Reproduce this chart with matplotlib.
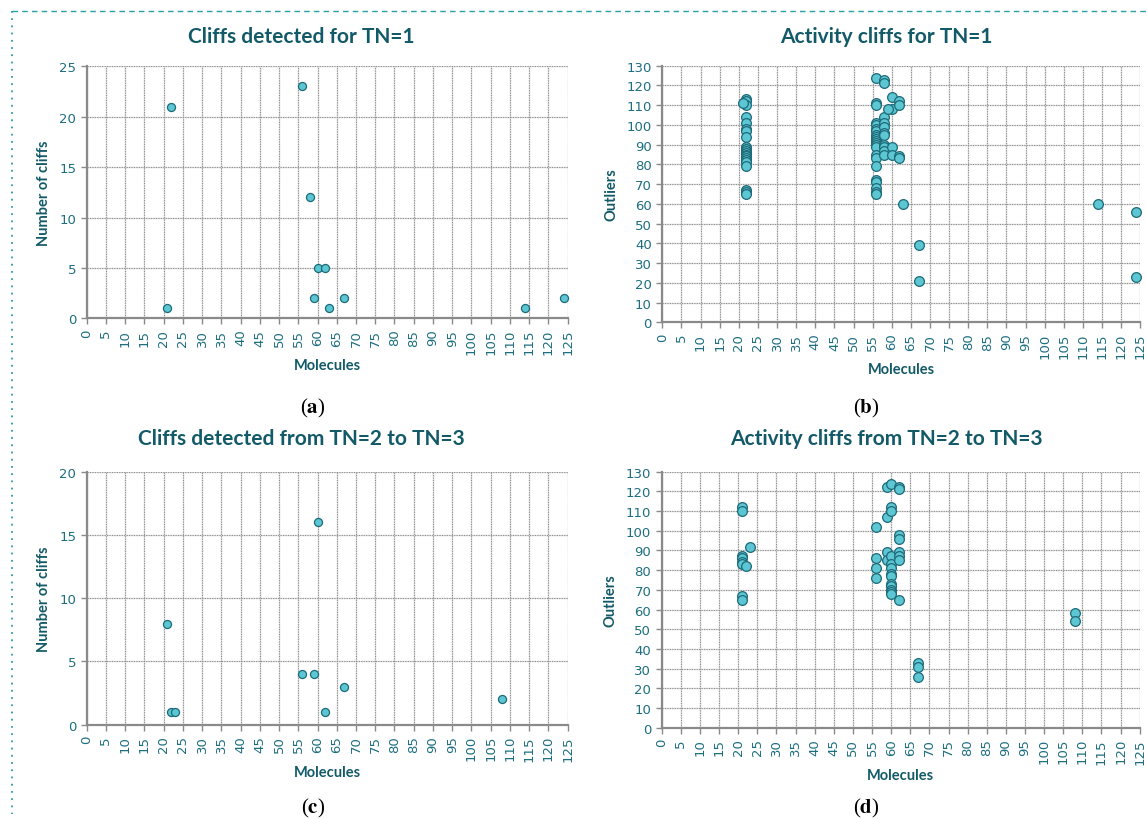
import matplotlib
matplotlib.use("Agg")
import matplotlib.pyplot as plt
from matplotlib.lines import Line2D

plt.rcParams['font.family'] = ['Lato', 'DejaVu Sans']
plt.rcParams['mathtext.fontset'] = 'stix'

# ---------------- data ----------------
# (a) Cliffs detected for TN=1
a_x = [21, 22, 56, 58, 59, 60, 62, 63, 67, 114, 124]
a_y = [1, 21, 23, 12, 2, 5, 5, 1, 2, 1, 2]

# (b) Activity cliffs for TN=1
b_x22 = [113, 112, 110, 104, 101, 98, 97, 94, 89, 88, 87, 86, 85, 84, 83, 82, 81, 79, 67, 66, 65]
b_x56 = [124, 111, 110, 101, 100, 98, 97, 95, 94, 93, 92, 91, 90, 89, 85, 83, 79, 72, 71, 68, 66, 65]
b_x58 = [123, 121, 104, 101, 99, 96, 95, 90, 89, 87, 85]
b_x60 = [114, 108, 89, 85]
b_x62 = [112, 110, 84, 83]
b_other_x = [21, 59, 63, 67, 67, 114, 124, 124]
b_other_y = [111, 108, 60, 39, 21, 60, 56, 23]

# (c) Cliffs detected from TN=2 to TN=3
c_x = [21, 22, 23, 56, 59, 60, 62, 67, 108]
c_y = [8, 1, 1, 4, 4, 16, 1, 3, 2]

# (d) Activity cliffs from TN=2 to TN=3
d_x21 = [112, 110, 87, 86, 84, 83, 67, 65]
d_x56 = [102, 86, 81, 76]
d_x59 = [122, 107, 89, 85]
d_x60 = [124, 112, 110, 87, 83, 81, 78, 77, 73, 72, 70, 69, 68]
d_x62 = [122, 121, 98, 96, 89, 87, 85, 65]
d_other_x = [22, 23, 67, 67, 67, 108, 108]
d_other_y = [82, 92, 33, 31, 26, 58, 54]

x_ticks = list(range(0, 126, 5))

titles = ["Cliffs detected for TN=1", "Activity cliffs for TN=1",
          "Cliffs detected from TN=2 to TN=3", "Activity cliffs from TN=2 to TN=3"]
ylabels = ["Number of cliffs", "Outliers", "Number of cliffs", "Outliers"]
letters = ["a", "b", "c", "d"]

def expand(x, ys):
    return [x] * len(ys), ys

bx, by = [], []
for xv, ys in [(22, b_x22), (56, b_x56), (58, b_x58), (60, b_x60), (62, b_x62)]:
    xx, yy = expand(xv, ys)
    bx += xx; by += yy
bx += b_other_x; by += b_other_y

dx, dy = [], []
for xv, ys in [(21, d_x21), (56, d_x56), (59, d_x59), (60, d_x60), (62, d_x62)]:
    xx, yy = expand(xv, ys)
    dx += xx; dy += yy
dx += d_other_x; dy += d_other_y

# ---------------- styles ----------------
W, H = 1147, 820
TEAL_T = "#125a68"
TEAL_TK = "#1d6e80"
FACE = "#5cc6d3"
EDGE = "#1d6a78"

fig = plt.figure(figsize=(W / 100, H / 100), dpi=100)

def px_axes(left, right, top, bottom):
    return fig.add_axes([left / W, (H - bottom) / H, (right - left) / W, (bottom - top) / H])

axes_px = [
    (86.7, 567.6, 67.3, 319.3),
    (662.3, 1140.3, 66.7, 323.3),
    (86.7, 567.6, 472.7, 725.7),
    (661.7, 1139.7, 472.7, 728.7),
]
data = [(a_x, a_y), (bx, by), (c_x, c_y), (dx, dy)]
ylims = [(0, 25, 5), (0, 130, 10), (0, 20, 5), (0, 130, 10)]
msizes = [5.8, 7, 5.8, 7]

for i, (geom, (xs, ys), (y0, y1, ys_step)) in enumerate(zip(axes_px, data, ylims)):
    ax = px_axes(*geom)
    ax.set_xlim(0, 125)
    ax.set_ylim(y0, y1)
    ax.set_xticks(x_ticks)
    ax.set_yticks(list(range(y0, y1 + 1, ys_step)))
    ax.set_axisbelow(True)
    ax.grid(True, color="#dcdcdc", linestyle="-", linewidth=1.0, zorder=0)
    for t in ax.get_xticks():
        ax.axvline(t, color="#8e8e8e", linestyle=(0, (1, 1.2)), linewidth=0.8, zorder=1.5)
    for t in ax.get_yticks():
        ax.axhline(t, color="#8e8e8e", linestyle=(0, (1, 1.2)), linewidth=0.8, zorder=1.5)
    for s in ["top", "right"]:
        ax.spines[s].set_visible(False)
    for s in ["left", "bottom"]:
        ax.spines[s].set_color("#8a8a8a")
        ax.spines[s].set_linewidth(1.6)
        ax.spines[s].set_zorder(3)
    ax.tick_params(axis="both", colors="#8a8a8a", labelcolor=TEAL_TK, length=4, width=1)
    ax.tick_params(axis="x", labelrotation=90, labelsize=9.5)
    ax.tick_params(axis="y", labelsize=9.5)
    for lab in ax.get_xticklabels() + ax.get_yticklabels():
        lab.set_family("DejaVu Sans")
    ax.plot(xs, ys, linestyle="none", marker="o", markersize=msizes[i],
            markerfacecolor=FACE, markeredgecolor=EDGE, markeredgewidth=0.9,
            zorder=4, clip_on=False)
    ax.set_xlabel("Molecules", fontsize=10.5, fontweight="bold", color=TEAL_T, labelpad=3)
    ax.set_ylabel(ylabels[i], fontsize=10.5, fontweight="bold", color=TEAL_T, labelpad=6)

# titles
title_pos = [(301, 37), (886, 37), (301, 439), (886, 439)]
for t, (x, y) in zip(titles, title_pos):
    fig.text(x / W, 1 - y / H, t, ha="center", va="center", fontsize=15,
             fontweight="bold", color=TEAL_T)

# sub-labels
lab_pos = [(313, 408), (866, 408), (313, 808), (866, 808)]
for l, (x, y) in zip(letters, lab_pos):
    fig.text(x / W, 1 - y / H, r"($\mathbf{%s}$)" % l, ha="center", va="center",
             fontsize=15, family="Liberation Serif", color="black")

# border
fig.add_artist(Line2D([12 / W, 1.0], [1 - 12 / H, 1 - 12 / H], transform=fig.transFigure,
                      color="#2a9fa6", linestyle=(0, (4, 3)), linewidth=1))
fig.add_artist(Line2D([12 / W, 12 / W], [1 - 12 / H, 1 - 815 / H], transform=fig.transFigure,
                      color="#2a9fa6", linestyle=(0, (1, 3)), linewidth=1.3))

fig.savefig("out.png", dpi=100)
